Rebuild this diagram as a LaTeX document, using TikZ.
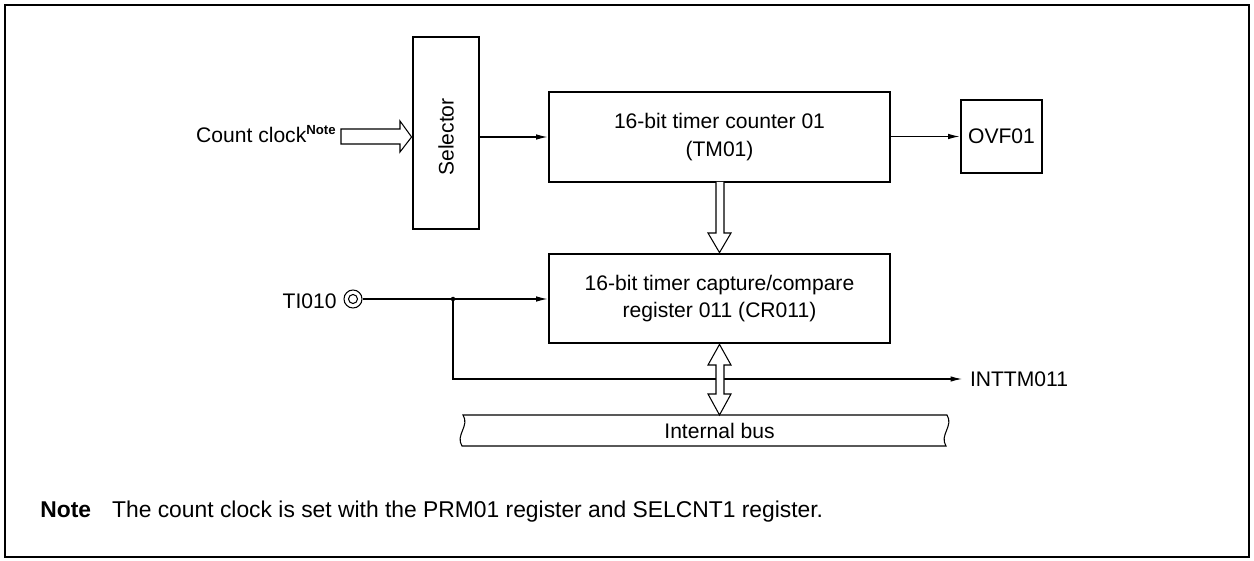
\documentclass[tikz,border=0pt]{standalone}
\usepackage{fontspec}
\setmainfont{Liberation Sans}
\usetikzlibrary{arrows.meta}
\newcommand{\dgfont}{\fontsize{12}{15.5}\selectfont}
\newcommand{\notemark}{\raisebox{5pt}{\fontsize{7.5}{9}\selectfont\bfseries Note}}
\tikzset{
   every path/.style={>={Latex[length=2.3mm,width=1.1mm]}},
   blk/.style={draw, line width=1.6pt, inner sep=0pt, align=center},
   sig/.style={->, line width=0.6pt},
   wire/.style={line width=0.6pt},
   fat/.style={draw, fill=white, line width=0.6pt, line join=miter},
   txt/.style={inner sep=0pt},
   pin/.style={draw, circle, line width=0.6pt, minimum size=3.6mm, inner sep=0pt,
      path picture={\draw[line width=0.6pt] (path picture bounding box.center) circle (0.9mm);}},
}

\begin{document}
\begin{tikzpicture}[x=0.2mm, y=-0.2mm, every node/.style={font=\dgfont}]
\useasboundingbox (0,0) rectangle (1254,561);
\draw[line width=1.4pt] (5,5) rectangle (1249,557);

% blocks
\node[blk, minimum width=1.32cm, minimum height=3.84cm] (sel) at (446,133) {\rotatebox{90}{Selector\hspace{1.6mm}}};
\node[blk, minimum width=6.82cm, minimum height=1.8cm] (tm) at (719.5,137) {16-bit timer counter 01\\(TM01)};
\node[blk, minimum width=1.62cm, minimum height=1.46cm] (ovf) at (1001.5,136.5) {OVF01};
\node[blk, minimum width=6.82cm, minimum height=1.78cm] (cr) at (719.5,298.5) {16-bit timer capture/compare\\register 011 (CR011)};

% labels
\node[txt, anchor=east] (clk) at (336,134) {Count clock\notemark};
\node[txt, anchor=east] (ti) at (337,301) {TI010};
\node[pin] (tipin) at (353,299) {};
\node[txt, anchor=west, outer xsep=1.6mm] (intl) at (962,379) {INTTM011};
\coordinate (jn) at (453,299);
\coordinate (bustop) at (719.5,415);

% count clock input
\draw[fat] (341,129) -- (400,129) -- (400,121) -- (sel.west |- 0,137) -- (400,152) -- (400,144) -- (341,144) -- cycle;
\draw[sig] (sel.east |- tm.west) -- (tm.west);
\draw[sig] (tm.east |- ovf.west) -- (ovf.west);
\draw[fat] (716,182) -- (716,233) -- (708,233) -- (cr.north) -- (731,233) -- (724,233) -- (724,182);

% capture input and interrupt
\draw[sig] (tipin.east) -- (tipin.east -| cr.west);
\fill (jn) circle (0.45mm);
\draw[sig] (jn) |- (intl.west);

% internal bus
\draw[wire, fill=white] (463,415) -- (947,415) .. controls (954,426) and (939,435) .. (946,446)
   -- (462,446) .. controls (455,435) and (470,426) .. (463,415) -- cycle;
\node (busl) at (719.5,431) {Internal bus};
\draw[fat] (cr.south) -- (731,365) -- (724,365) -- (724,394) -- (731,394) -- (bustop)
   -- (708,394) -- (716,394) -- (716,365) -- (708,365) -- cycle;

\node[txt, anchor=base west, font=\fontsize{13}{15}\selectfont] (note) at (40,517) {\textbf{Note}\hspace{4.2mm}The count clock is set with the PRM01 register and SELCNT1 register.};
\end{tikzpicture}
\end{document}
